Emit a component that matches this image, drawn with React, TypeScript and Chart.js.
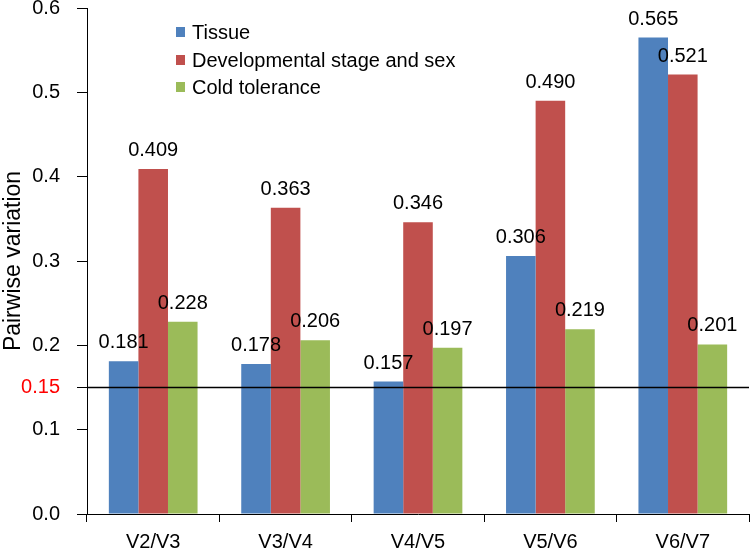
import React, { useEffect, useRef } from "react";
import { Chart, registerables } from "chart.js";

Chart.register(...registerables);

const categories = ["V2/V3", "V3/V4", "V4/V5", "V5/V6", "V6/V7"];
const tissue = [0.181, 0.178, 0.157, 0.306, 0.565];
const devStageSex = [0.409, 0.363, 0.346, 0.49, 0.521];
const coldTolerance = [0.228, 0.206, 0.197, 0.219, 0.201];
const seriesNames = ["Tissue", "Developmental stage and sex", "Cold tolerance"];
const seriesColors = ["#4F81BD", "#C0504D", "#9BBB59"];
const yTickValues = [0, 0.1, 0.15, 0.2, 0.3, 0.4, 0.5, 0.6];
const cutoff = 0.15;

const FONT = "'Liberation Sans', Arial, sans-serif";

const overlayPlugin = {
  id: "overlay",
  afterDatasetsDraw(chart: any) {
    const ctx = chart.ctx;
    const area = chart.chartArea;
    const y = chart.scales.y.getPixelForValue(cutoff);
    ctx.save();
    ctx.strokeStyle = "#000";
    ctx.lineWidth = 1.5;
    ctx.beginPath();
    ctx.moveTo(area.left, y);
    ctx.lineTo(area.right, y);
    ctx.stroke();

    ctx.fillStyle = "#000";
    ctx.font = `20px ${FONT}`;
    ctx.textAlign = "center";
    ctx.textBaseline = "alphabetic";
    chart.data.datasets.forEach((ds: any, i: number) => {
      const meta = chart.getDatasetMeta(i);
      meta.data.forEach((el: any, j: number) => {
        ctx.fillText(Number(ds.data[j]).toFixed(3), el.x, el.y - 13);
      });
    });

    // legend
    const lx = 176;
    const ys = [32, 60, 87];
    chart.data.datasets.forEach((ds: any, i: number) => {
      ctx.fillStyle = ds.backgroundColor;
      ctx.fillRect(lx, ys[i] - 5, 9, 10);
      ctx.fillStyle = "#000";
      ctx.textAlign = "left";
      ctx.textBaseline = "middle";
      ctx.fillText(ds.label, lx + 16, ys[i] + 1);
    });
    ctx.restore();
  },
};

export default function App() {
  const ref = useRef<HTMLCanvasElement | null>(null);
  useEffect(() => {
    document.body.style.margin = "0";
    const canvas = ref.current;
    if (!canvas) return;
    const chart = new Chart(canvas, {
      type: "bar",
      data: {
        labels: categories,
        datasets: [tissue, devStageSex, coldTolerance].map((d, i) => ({
          label: seriesNames[i],
          data: d,
          backgroundColor: seriesColors[i],
          borderWidth: 0,
          categoryPercentage: 0.67,
          barPercentage: 1,
        })),
      },
      options: {
        responsive: false,
        animation: false,
        devicePixelRatio: 1,
        layout: { padding: { top: 8, right: 1, left: 0, bottom: 0 } },
        plugins: {
          legend: { display: false },
          tooltip: { enabled: false },
        },
        scales: {
          x: {
            grid: {
              drawOnChartArea: false,
              offset: true,
              tickLength: 8,
              color: "#000",
              tickColor: "#000",
            },
            border: { display: true, color: "#000", width: 1 },
            ticks: {
              color: "#000",
              font: { family: FONT, size: 20 },
              padding: 8,
              maxRotation: 0,
            },
            afterFit(scale: any) {
              scale.height = 43;
              scale.paddingLeft = 0;
              scale.paddingRight = 0;
            },
          },
          y: {
            min: 0,
            max: 0.6,
            afterBuildTicks(scale: any) {
              scale.ticks = yTickValues.map((v) => ({ value: v }));
            },
            grid: {
              drawOnChartArea: false,
              tickLength: 10,
              color: "#000",
              tickColor: "#000",
            },
            border: { display: true, color: "#000", width: 1 },
            ticks: {
              color: (c: any) => (c.tick && c.tick.value === cutoff ? "#FF0000" : "#000"),
              font: { family: FONT, size: 20 },
              padding: 17,
              autoSkip: false,
              callback: (v: any) => (v === cutoff ? "0.15" : Number(v).toFixed(1)),
            },
            title: {
              display: true,
              text: "Pairwise variation",
              color: "#000",
              font: { family: FONT, size: 23 },
              padding: 0,
            },
            afterFit(scale: any) {
              scale.width = 87;
              scale.paddingTop = 0;
              scale.paddingBottom = 0;
            },
          },
        },
      },
      plugins: [overlayPlugin],
    });
    return () => chart.destroy();
  }, []);
  return (
    <div style={{ width: 750, height: 557 }}>
      <canvas ref={ref} width={750} height={557} style={{ display: "block" }} />
    </div>
  );
}
